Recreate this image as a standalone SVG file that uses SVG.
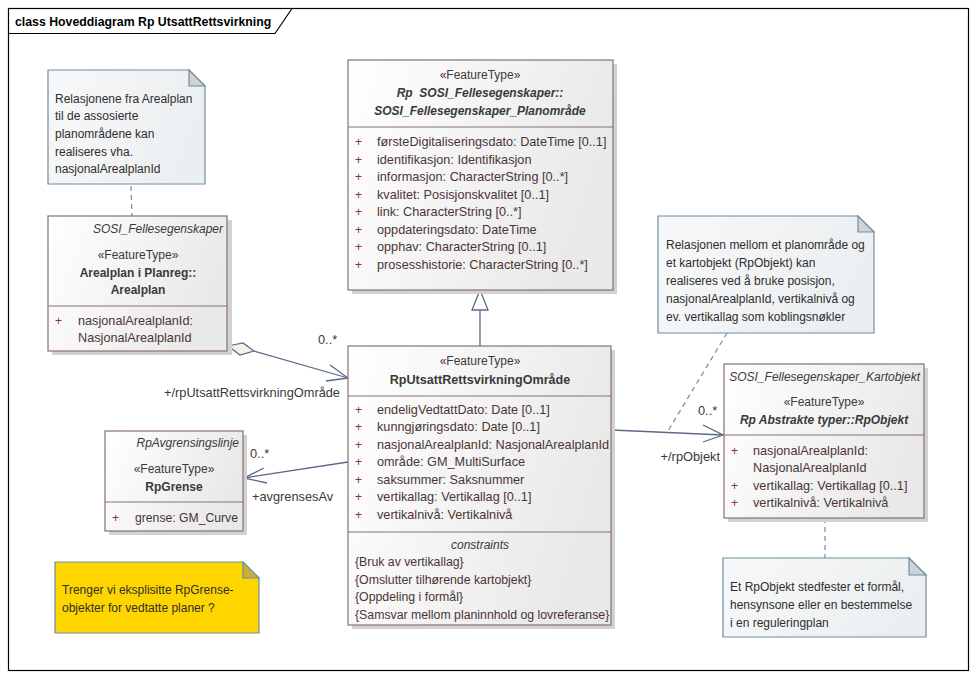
<svg xmlns="http://www.w3.org/2000/svg" width="977" height="680" viewBox="0 0 977 680">
<defs>
<linearGradient id="cg" x1="0" y1="0" x2="1" y2="0.3">
<stop offset="0" stop-color="#ffffff"/>
<stop offset="1" stop-color="#e9e9e9"/>
</linearGradient>
<linearGradient id="ng" x1="0" y1="0" x2="1" y2="0.3">
<stop offset="0" stop-color="#f7f8f9"/>
<stop offset="1" stop-color="#eceff1"/>
</linearGradient>
</defs>
<style>
text{font-family:"Liberation Sans",Arial,sans-serif;font-size:12px;fill:#3a3a3a}
.title{font-weight:bold;font-size:12.3px;fill:#000}
.b{font-weight:bold}
.i{font-style:italic}
.c{text-anchor:middle}
.r{text-anchor:end}
.a{fill:#4a3535;font-size:12.7px}
.k{fill:#4a3535;font-size:12.3px}
.p{fill:#8a3045}
.lb{font-size:12.8px;fill:#3a3a3a}
.cls{fill:url(#cg);stroke:#8c7070;stroke-width:1.2}
.sh{fill:#d2d2d2}
.div{stroke:#8c7070;stroke-width:1.2}
.note{fill:url(#ng);stroke:#6d8fa0;stroke-width:1.2}
.fold{fill:#cdd3d8;stroke:#6d8fa0;stroke-width:1.2}
.con{stroke:#5b6985;stroke-width:1.3;fill:none}
.nl{stroke:#6d8fa0;stroke-width:1.2;stroke-dasharray:5,4;fill:none}
.nt{fill:#2e2e2e}
</style>
<rect x="0" y="0" width="977" height="680" fill="#ffffff"/>
<g id="frame">
<rect x="8.5" y="8.5" width="960" height="662" fill="none" stroke="#000" stroke-width="1.2"/>
<polyline points="8.5,33.5 275,33.5 292,8.5" fill="none" stroke="#000" stroke-width="1.2"/>
<text class="title" x="15" y="26">class Hoveddiagram Rp UtsattRettsvirkning</text>
</g>

<g id="connectors">
<line class="nl" x1="131" y1="186" x2="132" y2="216"/>
<line class="nl" x1="727" y1="333" x2="668" y2="431"/>
<line class="nl" x1="825" y1="518" x2="825" y2="558"/>
<line class="con" x1="480" y1="346" x2="480" y2="310"/>
<polygon points="480,290 472,310 488,310" fill="#ffffff" stroke="#5b6985" stroke-width="1.3"/>
<polygon points="228,346 243,343 254,351 240,355" fill="#f5f0ee" stroke="#5b6985" stroke-width="1.2"/>
<line class="con" x1="254" y1="351" x2="348" y2="378"/>
<polyline class="con" points="330,365 348,378 326,381"/>
<text class="lb" x="318" y="344">0..*</text>
<text class="lb r" x="340" y="397">+/rpUtsattRettsvirkningOmråde</text>
<line class="con" x1="348" y1="462" x2="244" y2="478"/>
<polyline class="con" points="264,468 244,478 267,483"/>
<text class="lb" x="250" y="458">0..*</text>
<text class="lb" x="252" y="501">+avgrensesAv</text>
<line class="con" x1="612" y1="430" x2="723" y2="435"/>
<polyline class="con" points="703,425 723,435 703,442"/>
<text class="lb" x="698" y="415">0..*</text>
<text class="lb r" x="720" y="461">+/rpObjekt</text>
</g>

<g id="note-arealplan">
<path class="note" d="M48,70 H189 L205,86 V184 H48 Z"/>
<path class="fold" d="M189,70 V86 H205 Z"/>
<text class="nt" x="55" y="103">Relasjonene fra Arealplan</text>
<text class="nt" x="55" y="120">til de assosierte</text>
<text class="nt" x="55" y="138">planområdene kan</text>
<text class="nt" x="55" y="156">realiseres vha.</text>
<text class="nt" x="55" y="173">nasjonalArealplanId</text>
</g>

<g id="arealplan">
<rect class="sh" x="52" y="220" width="180" height="135"/>
<rect class="cls" x="48" y="216" width="179" height="135"/>
<line class="div" x1="48" y1="306" x2="227" y2="306"/>
<text class="i r" x="223" y="233">SOSI_Fellesegenskaper</text>
<text class="c" x="138" y="259">«FeatureType»</text>
<text class="b c" x="138" y="277">Arealplan i Planreg::</text>
<text class="b c" x="138" y="294">Arealplan</text>
<text class="p" x="55" y="325">+</text>
<text class="a" x="78" y="325">nasjonalArealplanId:</text>
<text class="a" x="78" y="342">NasjonalArealplanId</text>
</g>

<g id="planomraade">
<rect class="sh" x="352" y="64" width="265" height="230"/>
<rect class="cls" x="348" y="60" width="265" height="230"/>
<line class="div" x1="348" y1="127" x2="613" y2="127"/>
<text class="c" x="480" y="79">«FeatureType»</text>
<text class="b i c" x="480" y="97" xml:space="preserve">Rp  SOSI_Fellesegenskaper::</text>
<text class="b i c" x="480" y="115">SOSI_Fellesegenskaper_Planområde</text>
<text class="p" x="355" y="146">+</text><text class="a" x="377" y="146">førsteDigitaliseringsdato: DateTime [0..1]</text>
<text class="p" x="355" y="164">+</text><text class="a" x="377" y="164">identifikasjon: Identifikasjon</text>
<text class="p" x="355" y="181">+</text><text class="a" x="377" y="181">informasjon: CharacterString [0..*]</text>
<text class="p" x="355" y="199">+</text><text class="a" x="377" y="199">kvalitet: Posisjonskvalitet [0..1]</text>
<text class="p" x="355" y="216">+</text><text class="a" x="377" y="216">link: CharacterString [0..*]</text>
<text class="p" x="355" y="234">+</text><text class="a" x="377" y="234">oppdateringsdato: DateTime</text>
<text class="p" x="355" y="251">+</text><text class="a" x="377" y="251">opphav: CharacterString [0..1]</text>
<text class="p" x="355" y="269">+</text><text class="a" x="377" y="269">prosesshistorie: CharacterString [0..*]</text>
</g>

<g id="rputsatt">
<rect class="sh" x="352" y="350" width="263" height="279"/>
<rect class="cls" x="348" y="346" width="263" height="279"/>
<line class="div" x1="348" y1="396" x2="611" y2="396"/>
<line class="div" x1="348" y1="532" x2="611" y2="532"/>
<text class="c" x="480" y="365">«FeatureType»</text>
<text class="b c" x="480" y="384" style="font-size:12.6px">RpUtsattRettsvirkningOmråde</text>
<text class="p" x="355" y="414">+</text><text class="a" x="377" y="414">endeligVedtattDato: Date [0..1]</text>
<text class="p" x="355" y="431">+</text><text class="a" x="377" y="431">kunngjøringsdato: Date [0..1]</text>
<text class="p" x="355" y="449">+</text><text class="a" x="377" y="449">nasjonalArealplanId: NasjonalArealplanId</text>
<text class="p" x="355" y="466">+</text><text class="a" x="377" y="466">område: GM_MultiSurface</text>
<text class="p" x="355" y="484">+</text><text class="a" x="377" y="484">saksummer: Saksnummer</text>
<text class="p" x="355" y="501">+</text><text class="a" x="377" y="501">vertikallag: Vertikallag [0..1]</text>
<text class="p" x="355" y="519">+</text><text class="a" x="377" y="519">vertikalnivå: Vertikalnivå</text>
<text class="i c" x="480" y="549">constraints</text>
<text class="k" x="355" y="566">{Bruk av vertikallag}</text>
<text class="k" x="355" y="584">{Omslutter tilhørende kartobjekt}</text>
<text class="k" x="355" y="601">{Oppdeling i formål}</text>
<text class="k" x="355" y="619">{Samsvar mellom planinnhold og lovreferanse}</text>
</g>

<g id="rpgrense">
<rect class="sh" x="109" y="435" width="138" height="100"/>
<rect class="cls" x="105" y="431" width="138" height="100"/>
<line class="div" x1="105" y1="502" x2="243" y2="502"/>
<text class="i r" x="239" y="447">RpAvgrensingslinje</text>
<text class="c" x="174" y="473">«FeatureType»</text>
<text class="b c" x="174" y="491">RpGrense</text>
<text class="p" x="112" y="522">+</text><text class="a" x="135" y="522" style="font-size:12.2px">grense: GM_Curve</text>
</g>

<g id="note-rpgrense">
<path d="M55,562 H243 L259,578 V633 H55 Z" fill="#ffd500" stroke="#6d8fa0" stroke-width="1.2"/>
<path d="M243,562 V578 H259 Z" fill="#c9b03a" stroke="#6d8fa0" stroke-width="1.2"/>
<text class="nt" x="62" y="594">Trenger vi eksplisitte RpGrense-</text>
<text class="nt" x="62" y="612">objekter for vedtatte planer ?</text>
</g>

<g id="note-relasjon">
<path class="note" d="M658,216 H858 L874,232 V333 H658 Z"/>
<path class="fold" d="M858,216 V232 H874 Z"/>
<text class="nt" x="666" y="249">Relasjonen mellom et planområde og</text>
<text class="nt" x="666" y="267">et kartobjekt (RpObjekt) kan</text>
<text class="nt" x="666" y="285">realiseres ved å bruke posisjon,</text>
<text class="nt" x="666" y="303">nasjonalArealplanId, vertikalnivå og</text>
<text class="nt" x="666" y="321">ev. vertikallag som koblingsnøkler</text>
</g>

<g id="rpobjekt">
<rect class="sh" x="728" y="368" width="200" height="154"/>
<rect class="cls" x="724" y="364" width="200" height="154"/>
<line class="div" x1="724" y1="435" x2="924" y2="435"/>
<text class="i r" x="920" y="381">SOSI_Fellesegenskaper_Kartobjekt</text>
<text class="c" x="824" y="406">«FeatureType»</text>
<text class="b i c" x="824" y="424">Rp Abstrakte typer::RpObjekt</text>
<text class="p" x="731" y="455">+</text><text class="a" x="753" y="455">nasjonalArealplanId:</text>
<text class="a" x="753" y="472">NasjonalArealplanId</text>
<text class="p" x="731" y="490">+</text><text class="a" x="753" y="490">vertikallag: Vertikallag [0..1]</text>
<text class="p" x="731" y="507">+</text><text class="a" x="753" y="507">vertikalnivå: Vertikalnivå</text>
</g>

<g id="note-rpobjekt">
<path class="note" d="M723,558 H909 L926,575 V637 H723 Z"/>
<path class="fold" d="M909,558 V575 H926 Z"/>
<text class="nt" x="730" y="591">Et RpObjekt stedfester et formål,</text>
<text class="nt" x="730" y="609">hensynsone eller en bestemmelse</text>
<text class="nt" x="730" y="627">i en reguleringplan</text>
</g>
</svg>
